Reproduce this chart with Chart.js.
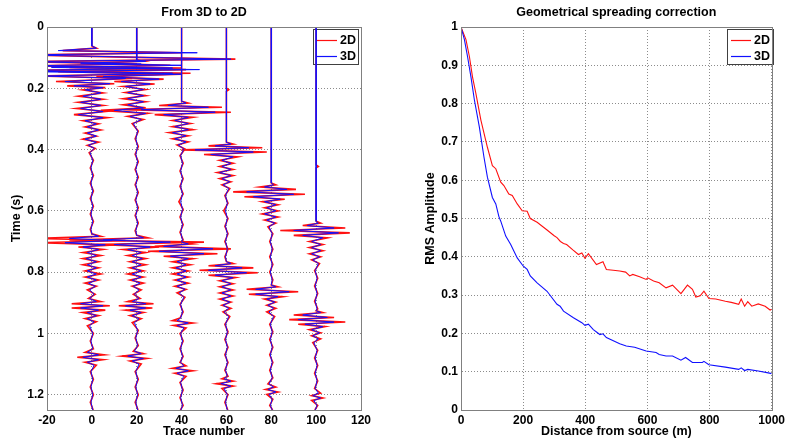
<!DOCTYPE html>
<html><head><meta charset="utf-8">
<script src="https://cdn.jsdelivr.net/npm/chart.js@4.4.0/dist/chart.umd.min.js"></script>
<style>
html,body{margin:0;padding:0;background:#fff;width:788px;height:442px;overflow:hidden}
#l{position:absolute;left:0;top:0}
#r{position:absolute;left:394px;top:0}
</style></head><body>
<canvas id="l" width="394" height="442"></canvas>
<canvas id="r" width="394" height="442"></canvas>
<script>
// ---------- LEFT PANEL DATA: rows are [time (s), offset 2D, offset 3D] ----------
const traceNumbers = [0, 20, 40, 60, 80, 100];
const trace0 = [
[0,0,0],[0.062,0,0],[0.069,2,2],[0.077,-13,-15],[0.084,40,47],[0.091,-30,-30],[0.099,20,22],[0.105,64,62],[0.113,-30,-30],[0.121,20,22],[0.127,-30,-30],[0.134,40,36],[0.142,-30,-30],[0.151,44,36],[0.160,-25,-22],[0.168,18,15],[0.178,-16,-12],[0.185,10,8],[0.192,-11,-8],[0.198,6,5],
[0.205,-4,-3],[0.215,5,4],[0.226,-6,-4],[0.236,5,4],[0.246,-6,-5],[0.256,5,4],[0.266,-7,-5],[0.276,6,5],[0.286,-8,-6],[0.296,7,5],[0.306,-4,-3],[0.316,3,2],[0.326,-3,-2],[0.336,4,3],[0.346,-3,-2],[0.356,2,2],[0.366,-4,-3],[0.376,3,2],[0.386,-2,-1.5],[0.396,1.5,1],[0.41,-1.2,-0.8],
[0.435,0.7,0.4],[0.46,-0.7,-0.4],[0.485,0.7,0.4],[0.51,-0.7,-0.4],[0.535,0.7,0.4],[0.56,-0.7,-0.4],[0.585,0.7,0.4],[0.61,-0.7,-0.4],[0.635,0.7,0.4],[0.66,-0.7,-0.4],[0.675,0,0],
[0.683,4,3],[0.690,-25,-10],[0.697,15,9],[0.704,-25,-12],[0.711,10,6],[0.718,-6,-4],[0.726,5,3],
[0.736,-4,-2],[0.746,4,2],[0.756,-4,-2.5],[0.766,3,2],[0.776,-4,-2],[0.786,3,2],[0.796,-3,-2],[0.806,4,2],[0.816,-3,-2],[0.826,3,2],[0.836,-3,-1.5],[0.846,2,1.5],[0.858,-2,-1],[0.872,1.5,1],[0.886,-1.5,-1],
[0.896,4,2],[0.903,-9,-5],[0.910,8,5],[0.917,-9,-5],[0.924,6,3],[0.932,-4,-2],[0.942,3,2],[0.952,-3,-2],[0.962,2,1],[0.975,-2,-1],
[1.0,0.7,0.4],[1.025,-0.7,-0.4],[1.05,0.7,0.4],
[1.062,-3,-2],[1.070,5.5,3],[1.078,-6.5,-4],[1.086,5,3],[1.094,-3,-2],[1.104,2,1],
[1.125,-0.7,-0.4],[1.15,0.7,0.4],[1.175,-0.7,-0.4],[1.2,0.7,0.4],[1.225,-0.7,-0.4],[1.25,0.6,0.4]
];
const trace20 = [
[0,0,0],[0.108,0,0],[0.112,3,4],[0.118,-20,-25],[0.125,15,20],[0.132,-30,-38],[0.139,22,28],[0.146,-35,-45],[0.154,20,20],[0.162,-18,-15],[0.170,12,10],[0.178,-10,-7],[0.186,8,6],
[0.194,-6,-5],[0.204,4,3],[0.214,-5,-4],[0.224,4,3],[0.234,-6,-4],[0.244,4,3],[0.254,-6,-4],[0.264,4,3],[0.272,-16,-10],[0.282,5,4],[0.292,-4,-3],[0.302,3,2],[0.315,-2,-1.5],
[0.34,0.7,0.4],[0.365,-0.7,-0.4],[0.39,0.7,0.4],[0.415,-0.7,-0.4],[0.44,0.7,0.4],[0.465,-0.7,-0.4],[0.49,0.7,0.4],[0.515,-0.7,-0.4],[0.54,0.7,0.4],[0.565,-0.7,-0.4],[0.59,0.7,0.4],[0.615,-0.7,-0.4],[0.64,0.7,0.4],[0.665,-0.7,-0.4],[0.68,0,0],
[0.688,5,3],[0.695,-30,-15],[0.702,30,15],[0.710,-18,-10],[0.718,10,6],[0.726,-6,-4],
[0.736,4,2],[0.746,-4,-2],[0.756,4,2.5],[0.766,-3,-2],[0.776,4,2],[0.786,-3,-2],[0.796,3,2],[0.806,-4,-2],[0.816,3,2],[0.826,-3,-2],[0.836,3,1.5],[0.846,-2,-1.5],[0.858,2,1],[0.872,-1.5,-1],[0.886,1.5,1],
[0.896,-4,-2],[0.903,7.5,4],[0.910,-8,-5],[0.917,7,4],[0.924,-5,-3],[0.932,3,2],[0.942,-3,-2],[0.952,2,1],[0.965,-2,-1],
[0.99,0.7,0.4],[1.015,-0.7,-0.4],[1.04,0.7,0.4],[1.058,-1.5,-1],
[1.066,3,2],[1.074,-6.5,-4],[1.082,4.5,3],[1.090,-3,-2],[1.100,2,1],
[1.125,-0.7,-0.4],[1.15,0.7,0.4],[1.175,-0.7,-0.4],[1.2,0.7,0.4],[1.225,-0.7,-0.4],[1.25,0.6,0.4]
];
const trace40 = [
[0,0,0],[0.242,0,0],[0.248,3,2],[0.256,-10,-6],[0.262,18,12],[0.270,-26,-18],[0.278,22,15],[0.286,-12,-8],[0.295,5,3],[0.305,-4,-3],
[0.315,4,3],[0.325,-4,-3],[0.335,5,3],[0.345,-5.5,-4],[0.355,3,2],[0.365,-4,-3],[0.375,3,2],[0.385,-2,-1.5],[0.398,1.5,1],
[0.42,-0.7,-0.4],[0.445,0.7,0.4],[0.47,-0.7,-0.4],[0.495,0.7,0.4],[0.52,-0.7,-0.4],[0.545,0.7,0.4],[0.57,-1.2,-0.4],[0.595,0.7,0.4],[0.62,-0.7,-0.4],[0.645,0.7,0.4],[0.67,-0.7,-0.4],[0.695,0.7,0.4],[0.702,0,0],
[0.708,5,3],[0.716,-12,-8],[0.724,22,14],[0.732,-15,-10],[0.740,16,10],[0.748,-8,-5],[0.756,5,3],
[0.766,-4,-2],[0.776,4,2],[0.786,-4,-2.5],[0.796,3,2],[0.806,-4,-2],[0.816,3,2],[0.826,-3,-2],[0.836,3,2],[0.846,-3,-2],[0.856,2,1.5],[0.868,-2,-1],[0.882,1.5,1],
[0.905,-0.7,-0.4],[0.93,0.7,0.4],[0.95,-0.7,-0.4],
[0.958,-4,-2],[0.966,5,3],[0.974,-3.5,-2],[0.982,2,1],
[1.0,-0.7,-0.4],[1.025,0.7,0.4],[1.05,-0.7,-0.4],[1.075,0.7,0.4],[1.095,-0.7,-0.4],
[1.106,2,1],[1.114,-4,-2.5],[1.122,5,3],[1.130,-3,-2],[1.140,2,1],
[1.16,-0.7,-0.4],[1.185,0.7,0.4],[1.21,-0.7,-0.4],[1.235,0.7,0.4],[1.25,-0.5,-0.3]
];
const trace60 = [
[0,0,0],[0.2,0,0],[0.205,1,0],[0.21,0,0],[0.376,0,0],[0.382,3,2],[0.388,-8,-5],[0.394,16,10],[0.401,-20,-14],[0.408,18,12],[0.416,-10,-7],[0.424,5,3],
[0.435,-3,-2],[0.445,3,2],[0.455,-3,-2],[0.465,3,2],[0.475,-4,-3],[0.485,3,2],[0.495,-3,-2],[0.505,2,1.5],[0.515,-2,-1.5],[0.527,1.5,1],
[0.55,-0.7,-0.4],[0.575,0.7,0.4],[0.6,-1.2,-0.4],[0.625,0.7,0.4],[0.65,-0.7,-0.4],[0.675,0.7,0.4],[0.7,-0.7,-0.4],[0.725,0.7,0.4],[0.75,-0.7,-0.4],[0.766,0,0],
[0.772,3,2],[0.779,-8,-5],[0.786,12,7],[0.794,-12,-8],[0.802,14,9],[0.810,-8,-5],[0.818,4,3],
[0.828,-3,-2],[0.838,3,2],[0.848,-3,-2],[0.858,3,2],[0.868,-3,-2],[0.878,3,2],[0.888,-3,-2],[0.898,2,1.5],[0.908,-2,-1.5],[0.918,2,1],[0.93,-1.5,-1],[0.945,1.5,1],
[0.97,-0.7,-0.4],[0.995,0.7,0.4],[1.02,-0.7,-0.4],[1.045,0.7,0.4],[1.07,-0.7,-0.4],[1.095,0.7,0.4],[1.12,-0.7,-0.4],[1.14,0.7,0.4],
[1.148,-2,-1],[1.156,3,2],[1.164,-4.5,-2.5],[1.172,3,2],[1.180,-2,-1],
[1.2,0.7,0.4],[1.225,-0.7,-0.4],[1.25,0.6,0.4]
];
const trace80 = [
[0,0,0],[0.509,0,0],[0.515,2,1],[0.522,-5,-3],[0.530,11,7],[0.538,-17,-11],[0.546,15,10],[0.554,-12,-8],[0.562,6,4],[0.570,-4,-3],
[0.58,3,2],[0.59,-3,-2],[0.60,3,2],[0.61,-4,-3],[0.62,3,2],[0.63,-3,-2],[0.64,2,1.5],[0.652,-1.5,-1],
[0.675,0.7,0.4],[0.7,-0.7,-0.4],[0.725,0.7,0.4],[0.75,-0.7,-0.4],[0.775,0.7,0.4],[0.8,-0.7,-0.4],[0.825,0.7,0.4],[0.842,0,0],
[0.848,3,2],[0.856,-11,-7],[0.864,12,8],[0.872,-10,-7],[0.880,5,3],[0.888,-3,-2],
[0.898,2,1.5],[0.908,-2,-1.5],[0.918,2,1],[0.93,-2,-1],[0.945,1.5,1],
[0.97,-0.7,-0.4],[0.995,0.7,0.4],[1.02,-0.7,-0.4],[1.045,0.7,0.4],[1.07,-0.7,-0.4],[1.095,0.7,0.4],[1.12,-0.7,-0.4],[1.145,0.7,0.4],[1.165,-1.5,-1],
[1.175,2,1],[1.183,-2.5,-1.5],[1.191,3,2],[1.199,-2,-1],
[1.215,0.7,0.4],[1.235,-0.7,-0.4],[1.25,0.6,0.4]
];
const trace100 = [
[0,0,0],[0.45,0,0],[0.455,1,0],[0.46,0,0],[0.634,0,0],[0.640,2,1],[0.648,-6,-4],[0.656,13,8],[0.664,-16,-10],[0.672,15,10],[0.680,-10,-6],[0.688,5,3],
[0.70,-3,-2],[0.71,3,2],[0.72,-3,-2],[0.73,3,2],[0.74,-3,-2],[0.75,2,1.5],[0.76,-2,-1.5],[0.772,1.5,1],
[0.795,-0.7,-0.4],[0.82,0.7,0.4],[0.845,-0.7,-0.4],[0.87,0.7,0.4],[0.895,-0.7,-0.4],[0.92,0.7,0.4],[0.926,0,0],
[0.932,3,2],[0.940,-10,-6],[0.948,8,5],[0.955,-12,-8],[0.963,13,8],[0.970,-8,-5],[0.978,4,3],
[0.988,-3,-2],[0.998,2,1.5],[1.008,-2,-1.5],[1.018,2,1],[1.03,-1.5,-1],
[1.055,0.7,0.4],[1.08,-0.7,-0.4],[1.105,0.7,0.4],[1.13,-0.7,-0.4],[1.155,0.7,0.4],[1.18,-0.7,-0.4],
[1.195,2,1],[1.203,-2,-1.5],[1.211,3,2],[1.219,-2,-1],
[1.235,0.7,0.4],[1.25,-0.6,-0.4]
];
const leftXTicks = [-20, 0, 20, 40, 60, 80, 100, 120];
const leftYTicks = [0, 0.2, 0.4, 0.6, 0.8, 1, 1.2];

// ---------- RIGHT PANEL DATA ----------
const dist2D = [0,16,27,37,48,64,85,101,112,128,138,154,165,181,197,213,223,245,277,300,309,320,330,340,360,378,389,399,410,436,457,468,490,511,530,543,553,575,596,601,620,638,660,681,708,729,745,756,770,782,798,820,851,870,894,902,913,923,936,957,979,995,1000];
const amp2D = [1.0,0.967,0.923,0.87,0.826,0.757,0.686,0.638,0.63,0.595,0.586,0.564,0.56,0.538,0.52,0.519,0.5,0.49,0.47,0.455,0.45,0.44,0.435,0.432,0.418,0.406,0.41,0.396,0.408,0.38,0.387,0.367,0.365,0.363,0.36,0.35,0.354,0.348,0.341,0.345,0.337,0.332,0.319,0.326,0.304,0.326,0.315,0.295,0.298,0.31,0.291,0.29,0.284,0.281,0.276,0.29,0.271,0.283,0.271,0.277,0.271,0.261,0.263];
const dist3D = [0,11,21,32,43,59,74,85,101,112,122,128,144,160,181,200,213,223,245,277,309,319,330,362,389,399,410,426,447,457,468,511,532,559,596,628,638,660,681,708,723,745,777,782,798,851,894,902,913,923,957,989,1000];
const amp3D = [1.0,0.967,0.923,0.87,0.81,0.739,0.66,0.608,0.555,0.538,0.505,0.493,0.454,0.432,0.397,0.376,0.367,0.35,0.332,0.31,0.276,0.271,0.258,0.241,0.228,0.221,0.224,0.21,0.197,0.199,0.189,0.173,0.167,0.164,0.154,0.15,0.145,0.141,0.141,0.13,0.137,0.124,0.124,0.127,0.118,0.112,0.106,0.11,0.103,0.106,0.102,0.097,0.095];
const rightXTicks = [0, 200, 400, 600, 800, 1000];
const rightYTicks = [0, 0.1, 0.2, 0.3, 0.4, 0.5, 0.6, 0.7, 0.8, 0.9, 1];
const seriesNames = ['2D', '3D'];

// ---------- STYLE ----------
const FONT = "'Liberation Sans', Arial, Helvetica, sans-serif";
const RED = '#ff1010';
const BLUE = '#1010ff';
Chart.defaults.font.family = FONT;
Chart.defaults.color = '#000';

function fmt(v) { return String(+(+v).toFixed(2)); }

function axis(min, max, ticksArr, reverse, fitFn) {
  return {
    type: 'linear', min: min, max: max, reverse: !!reverse,
    afterBuildTicks: s => { s.ticks = ticksArr.map(v => ({ value: v })); },
    afterFit: fitFn,
    ticks: { font: { size: 12, weight: 'bold' }, color: '#000', padding: 3, autoSkip: false, maxRotation: 0, callback: v => fmt(v) },
    grid: { color: '#8c8c8c', lineWidth: 1, drawTicks: false },
    border: { display: true, color: '#808080', width: 1, dash: [1, 2] }
  };
}

function decor(opts) {
  return {
    id: 'decor',
    beforeDatasetsDraw(chart) {
      const ctx = chart.ctx;
      const L = opts.legend;
      ctx.save();
      ctx.fillStyle = '#fff';
      ctx.fillRect(L.x, L.y, L.w, L.h);
      ctx.strokeStyle = '#404040';
      ctx.lineWidth = 1;
      ctx.strokeRect(L.x + 0.5, L.y + 0.5, L.w, L.h);
      ctx.font = 'bold 12.5px ' + FONT;
      ctx.textBaseline = 'middle';
      ctx.textAlign = 'left';
      [[seriesNames[0], RED, 11], [seriesNames[1], BLUE, 27]].forEach(e => {
        ctx.strokeStyle = e[1];
        ctx.lineWidth = 1.2;
        ctx.beginPath();
        ctx.moveTo(L.x + 4, L.y + e[2] + 0.5);
        ctx.lineTo(L.x + 24, L.y + e[2] + 0.5);
        ctx.stroke();
        ctx.fillStyle = '#000';
        ctx.fillText(e[0], L.x + 27, L.y + e[2] + 1);
      });
      ctx.restore();
    },
    afterDraw(chart) {
      const ctx = chart.ctx;
      const a = chart.chartArea;
      ctx.save();
      ctx.strokeStyle = '#808080';
      ctx.lineWidth = 1;
      ctx.strokeRect(Math.round(a.left) + 0.5, Math.round(a.top) + 0.5, Math.round(a.right - a.left), Math.round(a.bottom - a.top));
      ctx.fillStyle = '#000';
      ctx.font = 'bold 12.5px ' + FONT;
      ctx.textAlign = 'center';
      ctx.textBaseline = 'middle';
      const cx = (a.left + a.right) / 2;
      ctx.fillText(opts.title, cx, 13);
      ctx.fillText(opts.xTitle, cx, 432);
      ctx.translate(opts.yTitleX, (a.top + a.bottom) / 2);
      ctx.rotate(-Math.PI / 2);
      ctx.fillText(opts.yTitle, 0, 0);
      ctx.restore();
    }
  };
}

// ---------- LEFT CHART ----------
const traces = [trace0, trace20, trace40, trace60, trace80, trace100];
const leftSets = [];
traces.forEach((rows, i) => {
  const c = traceNumbers[i];
  leftSets.push({ label: seriesNames[1], data: rows.map(r => ({ x: c + r[2], y: r[0] })), borderColor: BLUE, borderWidth: 1, order: 0 });
  leftSets.push({ label: seriesNames[0], data: rows.map(r => ({ x: c + r[1], y: r[0] })), borderColor: RED, borderWidth: 1.6, order: 1 });
});
leftSets.forEach(d => Object.assign(d, { showLine: true, pointRadius: 0, fill: false, tension: 0 }));

new Chart(document.getElementById('l'), {
  type: 'scatter',
  data: { datasets: leftSets },
  options: {
    responsive: false, animation: false, events: [],
    layout: { padding: { top: 27, right: 33, left: 0, bottom: 0 } },
    plugins: { legend: { display: false }, tooltip: { enabled: false }, title: { display: false } },
    scales: {
      x: axis(-20, 120, leftXTicks, false, s => { s.height = 32; }),
      y: axis(0, 1.25, leftYTicks, true, s => { s.width = 47; })
    }
  },
  plugins: [decor({ title: 'From 3D to 2D', xTitle: 'Trace number', yTitle: 'Time (s)', yTitleX: 17, legend: { x: 313, y: 29, w: 45, h: 35 } })]
});

// ---------- RIGHT CHART ----------
new Chart(document.getElementById('r'), {
  type: 'scatter',
  data: {
    datasets: [
      { label: seriesNames[1], data: dist3D.map((d, i) => ({ x: d, y: amp3D[i] })), borderColor: BLUE, borderWidth: 1.1, order: 0 },
      { label: seriesNames[0], data: dist2D.map((d, i) => ({ x: d, y: amp2D[i] })), borderColor: RED, borderWidth: 1.1, order: 1 }
    ].map(d => Object.assign(d, { showLine: true, pointRadius: 0, fill: false, tension: 0 }))
  },
  options: {
    responsive: false, animation: false, events: [],
    layout: { padding: { top: 27, right: 13, left: 0, bottom: 0 } },
    plugins: { legend: { display: false }, tooltip: { enabled: false }, title: { display: false } },
    scales: {
      x: axis(0, 1000, rightXTicks, false, s => { s.height = 32; }),
      y: axis(0, 1, rightYTicks, false, s => { s.width = 67; })
    }
  },
  plugins: [decor({ title: 'Geometrical spreading correction', xTitle: 'Distance from source (m)', yTitle: 'RMS Amplitude', yTitleX: 37, legend: { x: 333, y: 29, w: 46, h: 35 } })]
});
</script>
</body></html>
